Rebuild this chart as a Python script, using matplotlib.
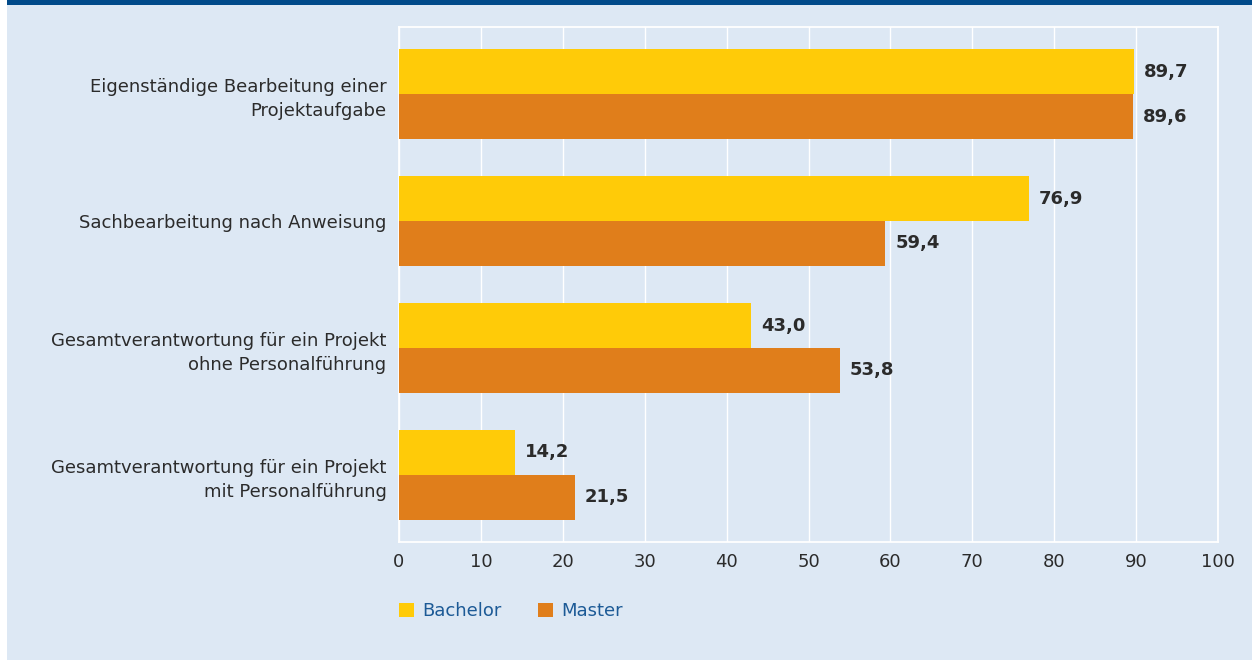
import matplotlib.pyplot as plt
from matplotlib.patches import Patch, Rectangle

categories = [
    "Eigenständige Bearbeitung einer\nProjektaufgabe",
    "Sachbearbeitung nach Anweisung",
    "Gesamtverantwortung für ein Projekt\nohne Personalführung",
    "Gesamtverantwortung für ein Projekt\nmit Personalführung",
]
bachelor = [89.7, 76.9, 43.0, 14.2]
master = [89.6, 59.4, 53.8, 21.5]
xticks = [0, 10, 20, 30, 40, 50, 60, 70, 80, 90, 100]

bg = '#dde8f4'
c_bach = '#ffcb08'
c_mast = '#e07e1b'
txt = '#2b2b2b'

fig = plt.figure(figsize=(12.52, 6.60), dpi=100)
fig.patch.set_facecolor('white')

# background panel and top band
fig.add_artist(Rectangle((7/1252, 0), 1 - 7/1252, 655/660, transform=fig.transFigure,
                         facecolor=bg, edgecolor='none', zorder=0))
fig.add_artist(Rectangle((7/1252, 655/660), 1 - 7/1252, 5/660, transform=fig.transFigure,
                         facecolor='#004a8a', edgecolor='none', zorder=0))

ax = fig.add_axes([399/1252, 118/660, 819/1252, 515/660])
ax.set_facecolor(bg)

y = list(range(len(categories)))
h = 0.354
ax.barh([i - h/2 for i in y], bachelor, height=h, color=c_bach, zorder=3)
ax.barh([i + h/2 for i in y], master, height=h, color=c_mast, zorder=3)

for i in y:
    ax.text(bachelor[i] + 1.2, i - h/2, f"{bachelor[i]:.1f}".replace('.', ','),
            va='center', ha='left', fontsize=13, fontweight='bold', color=txt, zorder=4)
    ax.text(master[i] + 1.2, i + h/2, f"{master[i]:.1f}".replace('.', ','),
            va='center', ha='left', fontsize=13, fontweight='bold', color=txt, zorder=4)

ax.set_xlim(0, 100)
ax.set_ylim(3.528, -0.528)
ax.set_xticks(xticks)
ax.set_yticks(y)
ax.set_yticklabels(categories, fontsize=13, color=txt, linespacing=1.4)
ax.tick_params(axis='x', labelsize=13, colors=txt, length=0, pad=8)
ax.tick_params(axis='y', length=0, pad=9)
ax.grid(axis='x', color='white', linewidth=1.0, zorder=1)
for s in ax.spines.values():
    s.set_color('white')
    s.set_linewidth(1.3)

handles = [Patch(facecolor=c_bach, label='Bachelor'), Patch(facecolor=c_mast, label='Master')]
fig.legend(handles=handles, loc='center left', bbox_to_anchor=(383/1252, 1 - 611/660),
           ncol=2, frameon=False, fontsize=13, labelcolor='#1c5a96',
           handlelength=0.8, handleheight=0.8, handletextpad=0.5, columnspacing=2.0)

plt.savefig('out.png', dpi=100)
